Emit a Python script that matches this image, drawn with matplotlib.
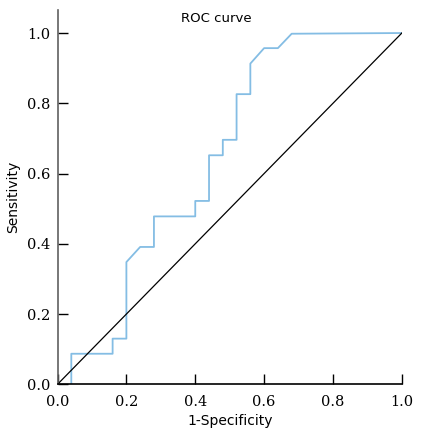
import matplotlib
matplotlib.use("Agg")
import matplotlib.pyplot as plt

# ROC curve points (1-specificity, sensitivity)
fpr = [0.04, 0.04, 0.16, 0.16, 0.20, 0.20, 0.24, 0.28, 0.28, 0.40, 0.40,
       0.44, 0.44, 0.48, 0.48, 0.52, 0.52, 0.56, 0.56, 0.60, 0.64, 0.68, 1.00]
tpr = [0.0, 0.087, 0.087, 0.130, 0.130, 0.348, 0.391, 0.391, 0.478, 0.478, 0.522,
       0.522, 0.652, 0.652, 0.696, 0.696, 0.826, 0.826, 0.913, 0.957, 0.957, 0.998, 1.0]
ref_x = [0.0, 1.0]
ref_y = [0.0, 1.0]
ticks = [0.0, 0.2, 0.4, 0.6, 0.8, 1.0]

fig = plt.figure(figsize=(4.23, 4.32), dpi=100)
ax = fig.add_axes([0.136, 0.1104, 0.814, 0.866])

ax.plot(fpr, tpr, color='#84bde4', lw=1.3)
ax.plot(ref_x, ref_y, color='black', lw=0.9)

ax.set_xlim(0, 1.0)
ax.set_ylim(0, 1.065)
ax.set_xticks(ticks)
ax.set_yticks(ticks)
ax.set_xticklabels([f"{t:.1f}" for t in ticks], family='DejaVu Serif', fontsize=10.5)
ax.set_yticklabels([f"{t:.1f}" for t in ticks], family='DejaVu Serif', fontsize=10.5)
ax.tick_params(direction='in', length=7, width=1, pad=5)
ax.tick_params(axis='x', pad=8)

for s in ['top', 'right']:
    ax.spines[s].set_visible(False)
ax.spines['left'].set_color('#606060')
ax.spines['left'].set_linewidth(1.2)
ax.spines['bottom'].set_color('black')
ax.spines['bottom'].set_linewidth(1.2)

ax.set_xlabel("1-Specificity", fontsize=10, labelpad=3)
ax.set_ylabel("Sensitivity", fontsize=10, labelpad=5)
fig.text(216 / 423, 1 - 18 / 432, "ROC curve", ha='center', va='center', fontsize=9.5)

fig.savefig("out.png", dpi=100)
